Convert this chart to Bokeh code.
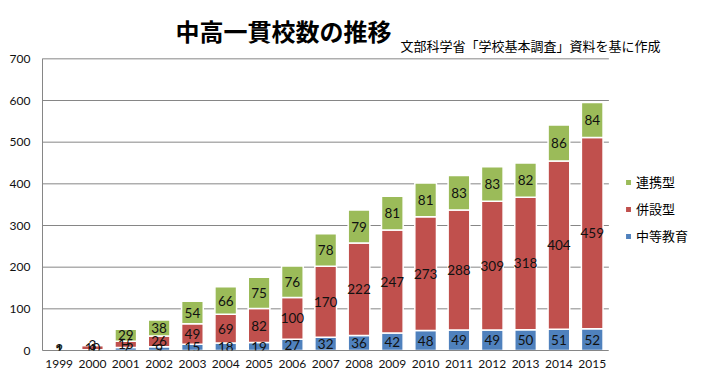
from bokeh.plotting import figure
from bokeh.models import (ColumnDataSource, LabelSet, Label, Legend, LegendItem,
                          Range1d, FixedTicker)
from bokeh.embed import file_html
from bokeh.resources import INLINE
from bokeh.core.properties import value

years = ["1999", "2000", "2001", "2002", "2003", "2004", "2005", "2006", "2007",
         "2008", "2009", "2010", "2011", "2012", "2013", "2014", "2015"]
chuto = [1, 2, 7, 9, 15, 18, 19, 27, 32, 36, 42, 48, 49, 49, 50, 51, 52]
heisetsu = [1, 10, 15, 26, 49, 69, 82, 100, 170, 222, 247, 273, 288, 309, 318, 404, 459]
renkei = [2, 3, 29, 38, 54, 66, 75, 76, 78, 79, 81, 81, 83, 83, 82, 86, 84]
y_ticks = [0, 100, 200, 300, 400, 500, 600, 700]

series = ["chuto", "heisetsu", "renkei"]
names = ["中等教育", "併設型", "連携型"]
colors = ["#4F81BD", "#C0504D", "#9BBB59"]

title_text = "中高一貫校数の推移"
subtitle_text = "文部科学省「学校基本調査」資料を基に作成"

n = len(years)
xs = list(range(n))
data = dict(x=xs, chuto=chuto, heisetsu=heisetsu, renkei=renkei)
src = ColumnDataSource(data)

ymax = y_ticks[-1]
# frame extends over title (above) and legend (right) areas
p = figure(x_range=Range1d(-0.5, n - 0.5 + 2.75), y_range=Range1d(0, ymax * 1.2),
           width=700, height=377, output_backend="svg", toolbar_location=None,
           min_border_left=42, min_border_right=0, min_border_top=0,
           min_border_bottom=27)

# grid lines limited to the plotting area
p.segment(x0=[-0.5] * len(y_ticks), x1=[n - 0.5] * len(y_ticks), y0=y_ticks, y1=y_ticks,
          line_color="#868686", line_width=1)

rs = p.vbar_stack(series, x="x", width=0.65, source=src, color=colors,
                  line_color="white", line_width=1.5)

# data labels at segment centers
lab_x, lab_y, lab_t = [], [], []
for i in xs:
    base = 0
    for s in (chuto, heisetsu, renkei):
        v = s[i]
        lab_x.append(i)
        lab_y.append(base + v / 2)
        lab_t.append(str(v))
        base += v
lsrc = ColumnDataSource(dict(x=lab_x, y=lab_y, t=lab_t))
p.add_layout(LabelSet(x="x", y="y", text="t", source=lsrc,
                      text_align="center", text_baseline="middle",
                      text_font=value("Lato"), text_font_size="13.5px",
                      text_color="#111111"))

# axes
for ax in (p.xaxis, p.yaxis):
    ax.major_tick_line_color = None
    ax.minor_tick_line_color = None
    ax.major_tick_out = 0
    ax.major_tick_in = 0
    ax.minor_tick_out = 0
    ax.axis_line_color = "#868686"
    ax.major_label_text_font = "Lato"
    ax.major_label_text_font_size = "12px"
    ax.major_label_text_color = "#111111"
p.yaxis.ticker = FixedTicker(ticks=y_ticks)
p.yaxis.bounds = (0, ymax)
p.yaxis.major_label_standoff = 12
p.xaxis.ticker = FixedTicker(ticks=xs)
p.xaxis.major_label_overrides = {i: years[i] for i in xs}
p.xaxis.bounds = (-0.5, n - 0.5)
p.xaxis.major_label_standoff = 9
p.xgrid.grid_line_color = None
p.ygrid.grid_line_color = None
p.outline_line_color = None

# legend
items = [LegendItem(label=names[k], renderers=[rs[k]]) for k in (2, 1, 0)]
leg = Legend(items=items, location=(582, 105), glyph_width=8, glyph_height=8,
             label_text_font="Noto Sans CJK JP", label_text_font_size="13px",
             label_text_color="#000000",
             label_height=17, label_standoff=4, spacing=8, padding=0, margin=0,
             border_line_color=None, background_fill_alpha=0)
p.add_layout(leg, "center")

p.add_layout(Label(x=133, y=320, x_units="screen", y_units="screen", text=title_text,
                   text_font="Noto Sans CJK JP", text_font_size="24px",
                   text_font_style="bold", text_baseline="middle", text_color="#000000"))
p.add_layout(Label(x=358, y=305, x_units="screen", y_units="screen", text=subtitle_text,
                   text_font="Noto Sans CJK JP", text_font_size="13px",
                   text_baseline="middle", text_color="#000000"))

open("out.html", "w").write(file_html(p, INLINE))
